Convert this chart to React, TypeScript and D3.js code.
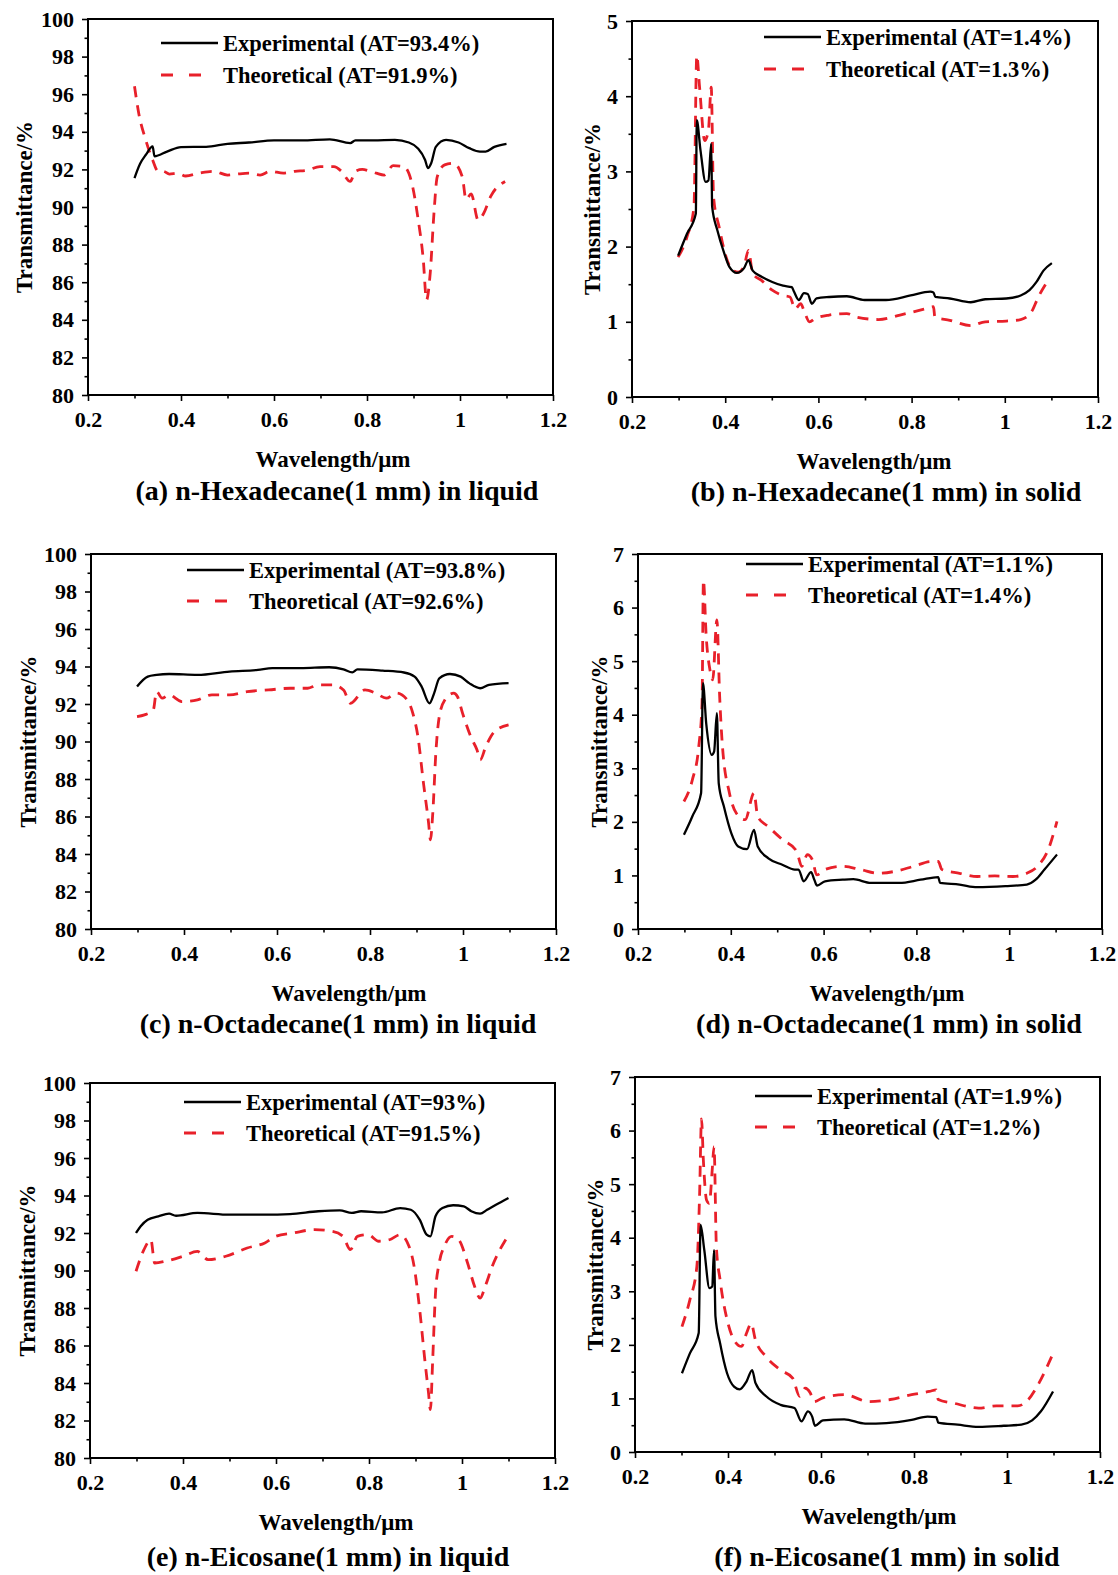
import React, { useEffect, useRef } from 'react';
import * as d3 from 'd3';

type Pt = [number, number];

// wavelength (um) / transmittance (%)
// (a) n-Hexadecane liquid
const hexLiqExp: Pt[] = [
  [0.3, 91.54], [0.312, 92.3], [0.325, 92.8], [0.339, 93.22], [0.343, 92.7], [0.37, 92.95], [0.4, 93.19],
  [0.454, 93.2], [0.5, 93.36], [0.546, 93.43], [0.6, 93.54], [0.66, 93.54], [0.72, 93.6], [0.764, 93.4],
  [0.775, 93.54], [0.814, 93.54], [0.86, 93.57], [0.89, 93.43], [0.909, 93.13], [0.925, 92.5], [0.931, 92.07],
  [0.938, 92.33], [0.948, 93.2], [0.97, 93.57], [0.997, 93.43], [1.02, 93.13], [1.043, 92.95], [1.055, 92.95],
  [1.074, 93.2], [1.1, 93.36],
];
const hexLiqThe: Pt[] = [
  [0.3, 96.42], [0.309, 95.0], [0.324, 93.58], [0.339, 92.5], [0.351, 91.9], [0.362, 91.9], [0.375, 91.75],
  [0.393, 91.8], [0.41, 91.65], [0.439, 91.8], [0.47, 91.9], [0.5, 91.7], [0.52, 91.75], [0.546, 91.8],
  [0.57, 91.7], [0.592, 91.9], [0.62, 91.8], [0.645, 91.9], [0.67, 91.95], [0.699, 92.15], [0.729, 92.15],
  [0.745, 91.9], [0.764, 91.36], [0.775, 91.9], [0.79, 92.0], [0.806, 91.9], [0.82, 91.8], [0.837, 91.7],
  [0.856, 92.2], [0.879, 92.15], [0.898, 91.1], [0.909, 89.5], [0.921, 87.2], [0.928, 85.06], [0.936, 86.5],
  [0.944, 89.67], [0.951, 91.6], [0.967, 92.24], [0.986, 92.33], [1.005, 91.6], [1.013, 90.4], [1.024, 90.7],
  [1.039, 89.3], [1.051, 89.67], [1.066, 90.56], [1.097, 91.36],
];

// (b) n-Hexadecane solid
const hexSolExp: Pt[] = [
  [0.299, 1.88], [0.318, 2.17], [0.337, 2.44], [0.339, 3.68], [0.347, 3.28], [0.358, 2.86], [0.364, 2.88],
  [0.37, 3.37], [0.372, 2.53], [0.383, 2.22], [0.398, 1.91], [0.409, 1.73], [0.425, 1.65], [0.44, 1.71],
  [0.45, 1.82], [0.459, 1.68], [0.478, 1.6], [0.501, 1.53], [0.524, 1.48], [0.543, 1.46], [0.547, 1.41],
  [0.558, 1.29], [0.569, 1.38], [0.577, 1.37], [0.586, 1.24], [0.596, 1.31], [0.623, 1.33], [0.661, 1.34],
  [0.699, 1.29], [0.745, 1.29], [0.798, 1.35], [0.84, 1.4], [0.847, 1.39], [0.851, 1.33], [0.882, 1.31],
  [0.927, 1.26], [0.958, 1.3], [1.003, 1.31], [1.034, 1.35], [1.053, 1.42], [1.068, 1.53], [1.083, 1.68],
  [1.101, 1.78],
];
const hexSolThe: Pt[] = [
  [0.299, 1.86], [0.318, 2.13], [0.333, 2.53], [0.339, 4.54], [0.345, 4.12], [0.356, 3.41], [0.364, 3.55],
  [0.37, 4.12], [0.375, 2.66], [0.387, 2.26], [0.402, 1.86], [0.417, 1.68], [0.428, 1.66], [0.44, 1.73],
  [0.45, 1.95], [0.459, 1.64], [0.478, 1.55], [0.501, 1.42], [0.524, 1.35], [0.539, 1.33], [0.55, 1.17],
  [0.562, 1.24], [0.569, 1.15], [0.581, 1.0], [0.592, 1.04], [0.623, 1.09], [0.661, 1.11], [0.684, 1.06],
  [0.729, 1.03], [0.775, 1.09], [0.828, 1.17], [0.847, 1.2], [0.85, 1.06], [0.882, 1.02], [0.927, 0.95],
  [0.958, 1.0], [1.003, 1.01], [1.034, 1.03], [1.057, 1.13], [1.072, 1.33], [1.095, 1.57],
];

// (c) n-Octadecane liquid
const octLiqExp: Pt[] = [
  [0.299, 92.93], [0.322, 93.46], [0.341, 93.55], [0.368, 93.6], [0.429, 93.55], [0.498, 93.73],
  [0.559, 93.82], [0.59, 93.91], [0.651, 93.91], [0.712, 93.96], [0.743, 93.85], [0.762, 93.69],
  [0.773, 93.85], [0.827, 93.78], [0.873, 93.68], [0.896, 93.46], [0.911, 92.93], [0.928, 92.04],
  [0.938, 92.58], [0.949, 93.37], [0.972, 93.6], [0.995, 93.46], [1.014, 93.1], [1.037, 92.84],
  [1.056, 93.02], [1.098, 93.11],
];
const octLiqThe: Pt[] = [
  [0.299, 91.33], [0.315, 91.42], [0.334, 91.69], [0.341, 92.66], [0.353, 92.31], [0.368, 92.49],
  [0.395, 92.13], [0.429, 92.22], [0.46, 92.49], [0.498, 92.49], [0.536, 92.66], [0.582, 92.75],
  [0.628, 92.84], [0.666, 92.84], [0.689, 93.02], [0.72, 93.02], [0.743, 92.75], [0.758, 92.04],
  [0.789, 92.75], [0.812, 92.58], [0.835, 92.31], [0.857, 92.58], [0.88, 92.22], [0.892, 91.51],
  [0.903, 90.27], [0.915, 87.78], [0.926, 85.65], [0.93, 84.76], [0.935, 86.18], [0.942, 89.56],
  [0.949, 91.33], [0.961, 92.22], [0.98, 92.58], [0.988, 92.4], [0.999, 91.51], [1.018, 90.18],
  [1.03, 89.56], [1.037, 89.02], [1.049, 89.73], [1.068, 90.53], [1.098, 90.89],
];

// (d) n-Octadecane solid
const octSolExp: Pt[] = [
  [0.299, 1.76], [0.317, 2.1], [0.336, 2.54], [0.34, 4.59], [0.347, 3.84], [0.359, 3.25], [0.364, 3.31],
  [0.37, 4.03], [0.374, 2.72], [0.385, 2.29], [0.401, 1.79], [0.416, 1.54], [0.435, 1.49], [0.45, 1.85],
  [0.458, 1.54], [0.481, 1.32], [0.511, 1.2], [0.538, 1.11], [0.546, 1.11], [0.557, 0.89], [0.573, 1.06],
  [0.58, 0.92], [0.586, 0.81], [0.603, 0.89], [0.641, 0.92], [0.664, 0.93], [0.702, 0.86], [0.763, 0.86],
  [0.809, 0.92], [0.847, 0.97], [0.851, 0.86], [0.893, 0.83], [0.931, 0.78], [0.992, 0.8], [1.038, 0.83],
  [1.057, 0.92], [1.076, 1.11], [1.103, 1.39],
];
const octSolThe: Pt[] = [
  [0.299, 2.38], [0.317, 2.78], [0.331, 3.41], [0.338, 4.21], [0.341, 6.51], [0.347, 5.46], [0.355, 4.84],
  [0.361, 4.65], [0.37, 5.77], [0.376, 4.34], [0.382, 3.41], [0.397, 2.54], [0.412, 2.16], [0.431, 2.04],
  [0.45, 2.54], [0.458, 2.1], [0.481, 1.91], [0.511, 1.67], [0.542, 1.45], [0.553, 1.17], [0.565, 1.39],
  [0.576, 1.29], [0.585, 1.01], [0.603, 1.11], [0.641, 1.17], [0.679, 1.11], [0.718, 1.04], [0.756, 1.08],
  [0.794, 1.17], [0.832, 1.26], [0.847, 1.26], [0.855, 1.11], [0.893, 1.04], [0.931, 0.98], [0.969, 0.99],
  [1.008, 0.98], [1.038, 1.04], [1.061, 1.17], [1.084, 1.48], [1.103, 2.01],
];

// (e) n-Eicosane liquid
const eicLiqExp: Pt[] = [
  [0.299, 92.0], [0.309, 92.36], [0.324, 92.71], [0.347, 92.89], [0.37, 93.03], [0.385, 92.92],
  [0.431, 93.07], [0.5, 92.98], [0.576, 92.98], [0.63, 93.01], [0.691, 93.16], [0.737, 93.21],
  [0.763, 93.07], [0.783, 93.16], [0.828, 93.1], [0.867, 93.33], [0.89, 93.24], [0.909, 92.71],
  [0.924, 91.91], [0.932, 91.82], [0.943, 92.89], [0.958, 93.33], [0.981, 93.48], [1.004, 93.42],
  [1.02, 93.16], [1.039, 93.03], [1.054, 93.24], [1.073, 93.51], [1.1, 93.87],
];
const eicLiqThe: Pt[] = [
  [0.299, 89.96], [0.316, 91.11], [0.331, 91.64], [0.339, 90.4], [0.362, 90.49], [0.4, 90.76],
  [0.431, 91.02], [0.454, 90.58], [0.492, 90.76], [0.538, 91.2], [0.576, 91.47], [0.599, 91.82],
  [0.637, 92.0], [0.683, 92.18], [0.721, 92.09], [0.744, 91.82], [0.76, 91.11], [0.775, 91.82],
  [0.798, 91.91], [0.821, 91.56], [0.844, 91.64], [0.867, 91.91], [0.886, 91.29], [0.897, 90.22],
  [0.909, 87.91], [0.92, 85.24], [0.928, 83.47], [0.932, 82.58], [0.937, 85.24], [0.943, 88.8],
  [0.951, 90.4], [0.962, 91.29], [0.978, 91.82], [0.993, 91.64], [1.012, 90.4], [1.027, 89.16],
  [1.039, 88.53], [1.05, 89.16], [1.065, 90.22], [1.096, 91.73],
];

// (f) n-Eicosane solid
const eicSolExp: Pt[] = [
  [0.301, 1.47], [0.318, 1.84], [0.337, 2.22], [0.341, 4.24], [0.349, 3.77], [0.36, 3.06], [0.366, 3.09],
  [0.37, 3.77], [0.373, 2.53], [0.383, 2.03], [0.398, 1.47], [0.413, 1.22], [0.425, 1.17], [0.44, 1.32],
  [0.452, 1.53], [0.459, 1.29], [0.482, 1.04], [0.513, 0.88], [0.543, 0.82], [0.558, 0.57], [0.572, 0.76],
  [0.581, 0.66], [0.587, 0.49], [0.604, 0.59], [0.65, 0.61], [0.695, 0.53], [0.741, 0.54], [0.795, 0.6],
  [0.829, 0.66], [0.848, 0.65], [0.852, 0.55], [0.894, 0.51], [0.939, 0.47], [0.993, 0.49], [1.031, 0.51],
  [1.054, 0.59], [1.073, 0.76], [1.099, 1.13],
];
const eicSolThe: Pt[] = [
  [0.301, 2.34], [0.318, 2.84], [0.333, 3.46], [0.339, 4.83], [0.343, 6.22], [0.347, 5.45], [0.354, 4.7],
  [0.36, 4.64], [0.366, 5.26], [0.37, 5.7], [0.375, 3.83], [0.383, 3.21], [0.398, 2.47], [0.413, 2.09],
  [0.429, 1.97], [0.44, 2.22], [0.45, 2.4], [0.459, 2.09], [0.482, 1.78], [0.513, 1.53], [0.539, 1.38],
  [0.554, 1.04], [0.566, 1.19], [0.577, 1.1], [0.585, 0.94], [0.604, 1.01], [0.65, 1.07], [0.703, 0.94],
  [0.749, 0.98], [0.795, 1.07], [0.833, 1.13], [0.848, 1.16], [0.852, 0.98], [0.886, 0.91], [0.939, 0.82],
  [0.977, 0.86], [1.023, 0.86], [1.046, 0.98], [1.069, 1.29], [1.096, 1.78],
];

const xTicks = [0.2, 0.4, 0.6, 0.8, 1, 1.2];
const liquidTicks = [80, 82, 84, 86, 88, 90, 92, 94, 96, 98, 100];
const solid5Ticks = [0, 1, 2, 3, 4, 5];
const solid7Ticks = [0, 1, 2, 3, 4, 5, 6, 7];

const expLabels = [
  'Experimental (AT=93.4%)', 'Experimental (AT=1.4%)', 'Experimental (AT=93.8%)',
  'Experimental (AT=1.1%)', 'Experimental (AT=93%)', 'Experimental (AT=1.9%)',
];
const theLabels = [
  'Theoretical (AT=91.9%)', 'Theoretical (AT=1.3%)', 'Theoretical (AT=92.6%)',
  'Theoretical (AT=1.4%)', 'Theoretical (AT=91.5%)', 'Theoretical (AT=1.2%)',
];
const captions = [
  '(a) n-Hexadecane(1 mm) in liquid', '(b) n-Hexadecane(1 mm) in solid',
  '(c) n-Octadecane(1 mm) in liquid', '(d) n-Octadecane(1 mm) in solid',
  '(e) n-Eicosane(1 mm) in liquid', '(f) n-Eicosane(1 mm) in solid',
];

const FONT = '"Liberation Serif", "Times New Roman", serif';
const RED = '#e8202a';

// layout of each panel (plot frame in px, legend offsets, label positions)
const panels = [
  { left: 88, right: 553, top: 19, bottom: 395, ticks: liquidTicks, minor: 1, exp: hexLiqExp, the: hexLiqThe,
    legX: 73, legY1: 24, legY2: 56, yLabelX: 32, xLabelX: 333, capX: 337, capY: 500 },
  { left: 632, right: 1098, top: 21, bottom: 397, ticks: solid5Ticks, minor: 0.5, exp: hexSolExp, the: hexSolThe,
    legX: 132, legY1: 16, legY2: 48, yLabelX: 600, xLabelX: 874, capX: 886, capY: 501 },
  { left: 91, right: 556, top: 554, bottom: 929, ticks: liquidTicks, minor: 1, exp: octLiqExp, the: octLiqThe,
    legX: 96, legY1: 16, legY2: 47, yLabelX: 36, xLabelX: 349, capX: 338, capY: 1033 },
  { left: 638, right: 1102, top: 554, bottom: 929, ticks: solid7Ticks, minor: 0.5, exp: octSolExp, the: octSolThe,
    legX: 108, legY1: 10, legY2: 41, yLabelX: 607, xLabelX: 887, capX: 889, capY: 1033 },
  { left: 90, right: 555, top: 1083, bottom: 1458, ticks: liquidTicks, minor: 1, exp: eicLiqExp, the: eicLiqThe,
    legX: 94, legY1: 19, legY2: 50, yLabelX: 35, xLabelX: 336, capX: 328, capY: 1566 },
  { left: 635, right: 1100, top: 1077, bottom: 1452, ticks: solid7Ticks, minor: 0.5, exp: eicSolExp, the: eicSolThe,
    legX: 120, legY1: 19, legY2: 50, yLabelX: 603, xLabelX: 879, capX: 887, capY: 1566 },
];

const App = () => {
  const svgRef = useRef<SVGSVGElement | null>(null);

  useEffect(() => {
    const svg = d3.select(svgRef.current);
    svg.selectAll('*').remove();

    panels.forEach((p, i) => {
      const yMin = p.ticks[0];
      const yMax = p.ticks[p.ticks.length - 1];
      const x = d3.scaleLinear().domain([0.2, 1.2]).range([p.left, p.right]);
      const y = d3.scaleLinear().domain([yMin, yMax]).range([p.bottom, p.top]);
      const g = svg.append('g');

      const xMinor = d3.range(0.3, 1.2, 0.2).map((v) => +v.toFixed(1));
      const yMinor = d3.range(yMin + p.minor, yMax, p.minor * 2);

      // minor ticks
      g.append('g')
        .attr('transform', `translate(0,${p.bottom})`)
        .call(d3.axisBottom(x).tickValues(xMinor).tickSize(3.5).tickFormat(() => ''));
      g.append('g')
        .attr('transform', `translate(${p.left},0)`)
        .call(d3.axisLeft(y).tickValues(yMinor).tickSize(3.5).tickFormat(() => ''));

      // major ticks + labels
      g.append('g')
        .attr('transform', `translate(0,${p.bottom})`)
        .call(d3.axisBottom(x).tickValues(xTicks).tickSize(6).tickPadding(10).tickFormat((d) => String(d)));
      g.append('g')
        .attr('transform', `translate(${p.left},0)`)
        .call(d3.axisLeft(y).tickValues(p.ticks).tickSize(6).tickPadding(8).tickFormat((d) => String(d)));

      g.selectAll('.domain').remove();
      g.selectAll('.tick line').attr('stroke', '#000').attr('stroke-width', 1.6);
      g.selectAll('.tick text')
        .attr('fill', '#000')
        .attr('font-size', 22)
        .attr('font-weight', 'bold')
        .attr('font-family', FONT);

      // frame
      g.append('rect')
        .attr('x', p.left)
        .attr('y', p.top)
        .attr('width', p.right - p.left)
        .attr('height', p.bottom - p.top)
        .attr('fill', 'none')
        .attr('stroke', '#000')
        .attr('stroke-width', 2);

      const line = d3.line<Pt>()
        .x((d) => x(d[0]))
        .y((d) => y(d[1]))
        .curve(d3.curveMonotoneX);

      g.append('path')
        .attr('d', line(p.the))
        .attr('fill', 'none')
        .attr('stroke', RED)
        .attr('stroke-width', 2.8)
        .attr('stroke-dasharray', '11 8');

      g.append('path')
        .attr('d', line(p.exp))
        .attr('fill', 'none')
        .attr('stroke', '#000')
        .attr('stroke-width', 2.3);

      // legend
      const lx = p.left + p.legX;
      const ly1 = p.top + p.legY1;
      const ly2 = p.top + p.legY2;
      g.append('line')
        .attr('x1', lx).attr('x2', lx + 57)
        .attr('y1', ly1).attr('y2', ly1)
        .attr('stroke', '#000').attr('stroke-width', 2.3);
      g.append('line')
        .attr('x1', lx).attr('x2', lx + 40)
        .attr('y1', ly2).attr('y2', ly2)
        .attr('stroke', RED).attr('stroke-width', 2.8)
        .attr('stroke-dasharray', '12 16');

      const txt = (sel: any) =>
        sel.attr('font-family', FONT).attr('font-weight', 'bold').attr('fill', '#000');

      txt(g.append('text').attr('x', lx + 62).attr('y', ly1 + 7.5).attr('font-size', 22.5).text(expLabels[i]));
      txt(g.append('text').attr('x', lx + 62).attr('y', ly2 + 7.5).attr('font-size', 22.5).text(theLabels[i]));

      // axis titles
      txt(g.append('text')
        .attr('x', p.xLabelX).attr('y', p.bottom + 72)
        .attr('text-anchor', 'middle').attr('font-size', 23)
        .text('Wavelength/\u03bcm'));
      txt(g.append('text')
        .attr('transform', `translate(${p.yLabelX},${(p.top + p.bottom) / 2}) rotate(-90)`)
        .attr('text-anchor', 'middle').attr('font-size', 23)
        .text('Transmittance/%'));

      // panel caption
      txt(g.append('text')
        .attr('x', p.capX).attr('y', p.capY)
        .attr('text-anchor', 'middle').attr('font-size', 28)
        .text(captions[i]));
    });
  }, []);

  return (
    <svg
      ref={svgRef}
      width={1118}
      height={1575}
      style={{ position: 'absolute', left: 0, top: 0, background: '#fff' }}
    />
  );
};

export default App;
